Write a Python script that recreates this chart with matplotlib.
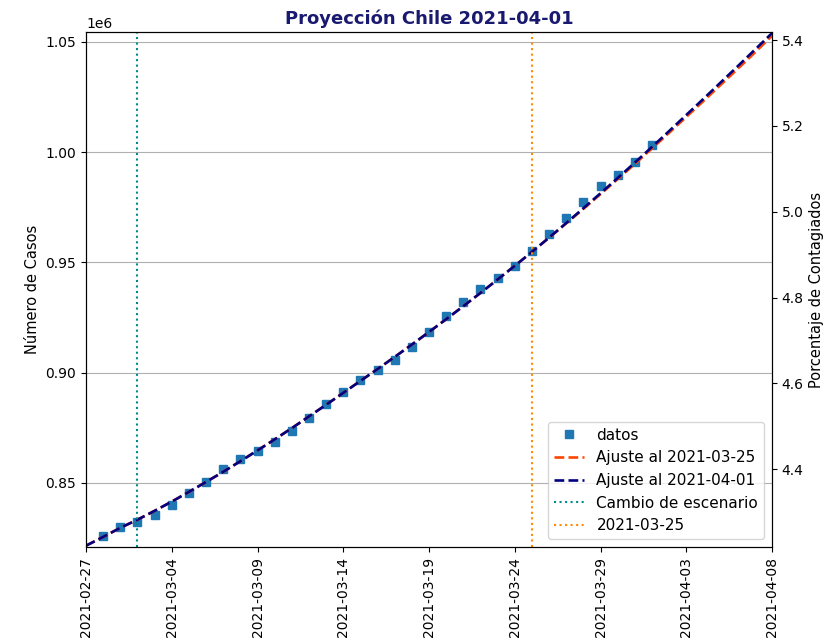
import matplotlib
matplotlib.use("Agg")
import matplotlib.pyplot as plt
import matplotlib.dates as mdates
import numpy as np
import pandas as pd

# ---- data ----
data_dates = pd.date_range("2021-02-28", "2021-04-01", freq="D")
data_cases = [826100, 830200, 832200, 835600, 840000, 845500, 850600, 856300,
              860700, 864500, 868600, 873700, 879600, 885800, 891300, 896500,
              901200, 905500, 911400, 918500, 925600, 932000, 938100, 943100,
              948100, 955300, 962800, 970200, 977300, 984600, 989600, 995700,
              1003200]

fit_dates = pd.date_range("2021-02-27", "2021-04-08", freq="D")
fit_0401 = [821500, 825500, 829600, 833300, 837300, 841500, 845900, 850400,
            855000, 859800, 864700, 869700, 874800, 880100, 885400, 890800,
            896200, 901600, 907100, 912700, 918400, 924200, 930100, 936100,
            942200, 948400, 954700, 961200, 967800, 974500, 981300, 988200,
            995200, 1002300, 1009500, 1016800, 1024100, 1031500, 1038900,
            1046400, 1053900]
fit_0325 = [821500, 825500, 829600, 833300, 837300, 841500, 845900, 850400,
            855000, 859800, 864700, 869700, 874800, 880100, 885400, 890800,
            896200, 901600, 907100, 912700, 918400, 924200, 930100, 936100,
            942200, 948400, 954700, 961100, 967600, 974200, 980900, 987700,
            994600, 1001600, 1008700, 1015900, 1023100, 1030400, 1037700,
            1045100, 1052700]

scenario_change = "2021-03-02"
cut_date = "2021-03-25"
population = 19458310
tick_dates = pd.date_range("2021-02-27", "2021-04-08", freq="5D")

# ---- figure ----
fig = plt.figure(figsize=(8.31, 6.41), dpi=100)
ax = fig.add_axes([0.1035, 0.1466, 0.8255, 0.8034])

ax.plot(data_dates, data_cases, "s", color="#1f77b4", markersize=5.5, label="datos")
ax.plot(fit_dates, fit_0325, "--", color="orangered", lw=1.9, label="Ajuste al 2021-03-25")
ax.plot(fit_dates, fit_0401, "--", color="navy", lw=1.9, label="Ajuste al 2021-04-01")
ax.axvline(pd.Timestamp(scenario_change), color="darkcyan", ls=":", lw=1.5,
           label="Cambio de escenario")
ax.axvline(pd.Timestamp(cut_date), color="darkorange", ls=":", lw=1.5, label="2021-03-25")

ax.set_xlim(fit_dates[0], fit_dates[-1])
ylo, yhi = 820900, 1054400
ax.set_ylim(ylo, yhi)
ax.set_xticks(tick_dates)
ax.xaxis.set_major_formatter(mdates.DateFormatter("%Y-%m-%d"))
plt.setp(ax.get_xticklabels(), rotation=90)
ax.yaxis.grid(True, color="#b0b0b0", lw=0.8)
ax.set_axisbelow(True)
ax.set_ylabel("Número de Casos", fontsize=10.5)
ax.set_title("Proyección Chile 2021-04-01", fontweight="bold", color="midnightblue",
             fontsize=13)
ax.legend(loc="lower right", fontsize=11)

ax2 = ax.twinx()
ax2.set_ylim(ylo / population * 100, yhi / population * 100)
ax2.set_ylabel("Porcentaje de Contagiados", fontsize=10.5)

fig.savefig("out.png", dpi=100)
